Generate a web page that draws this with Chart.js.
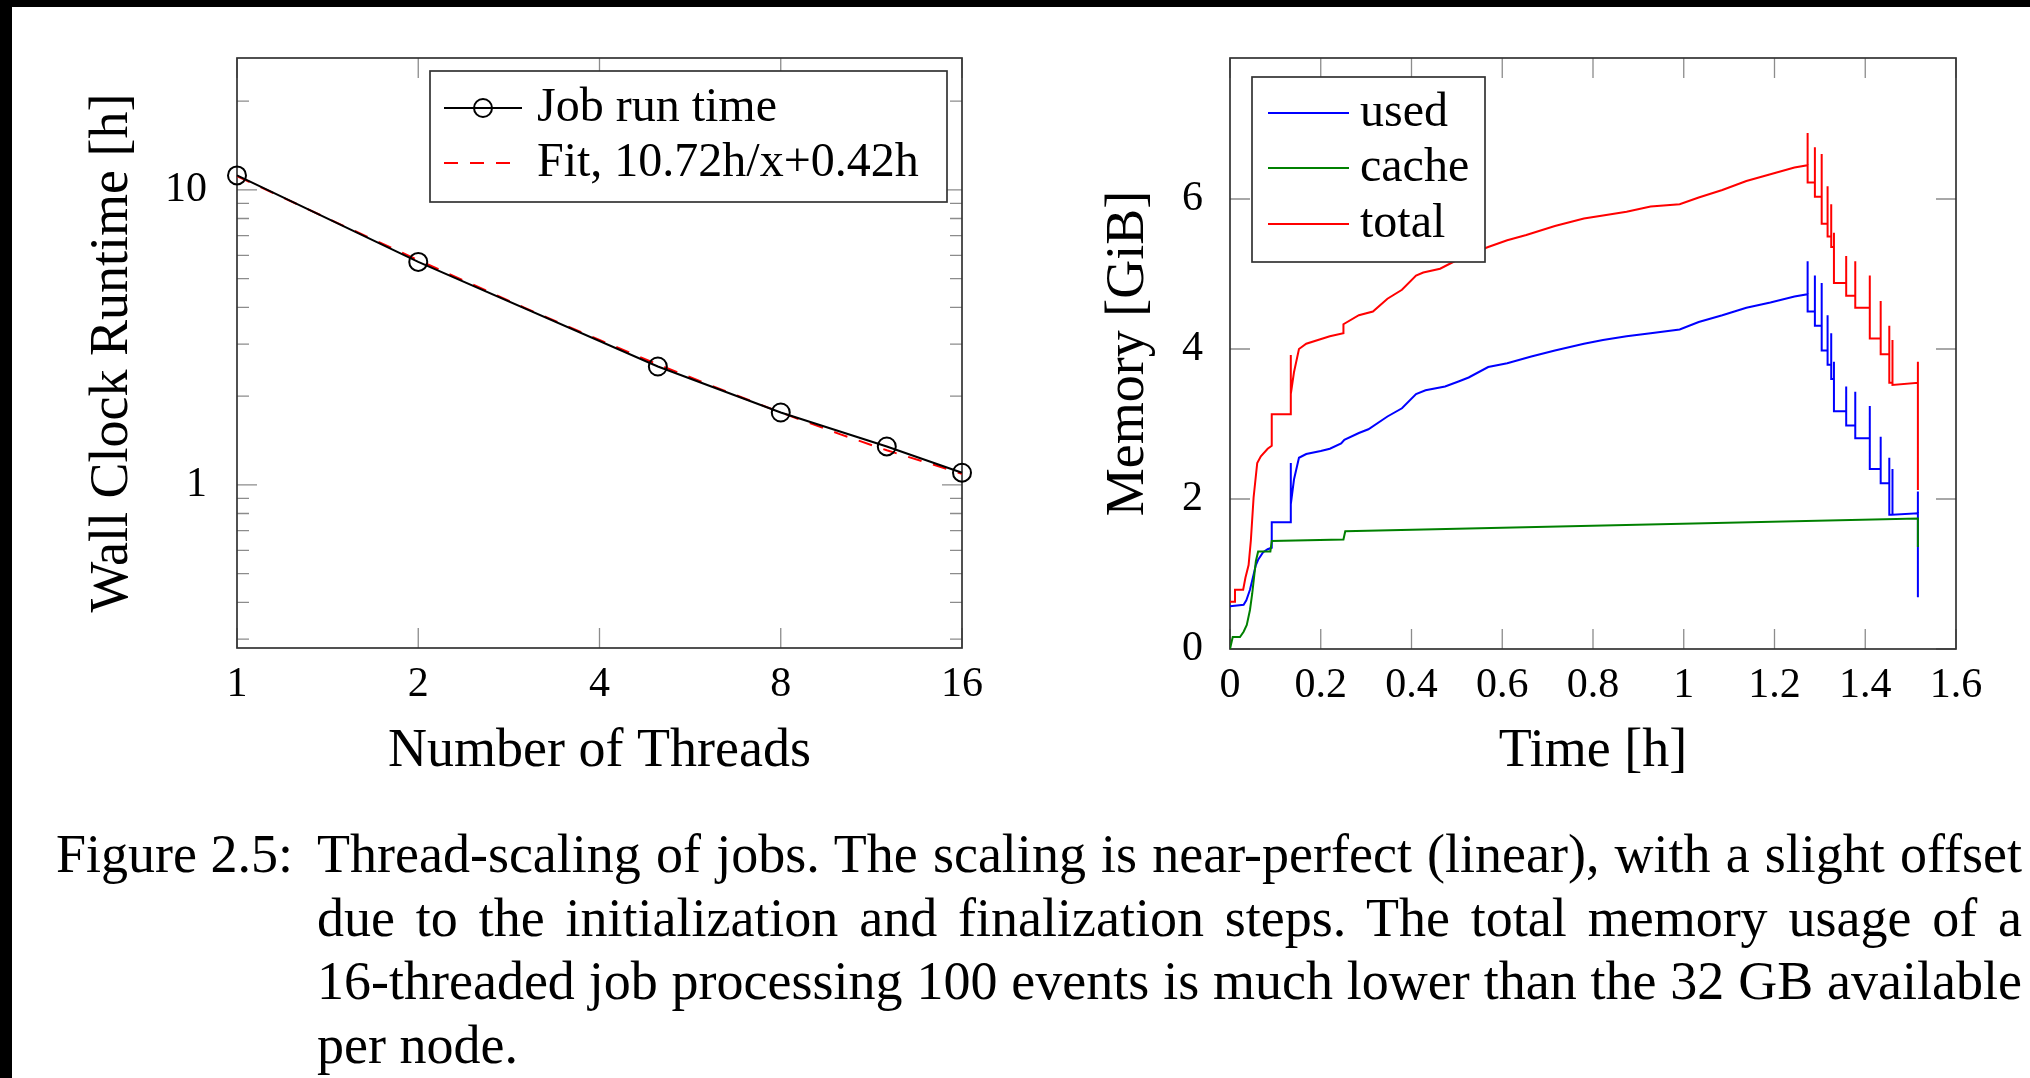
<!DOCTYPE html>
<html>
<head>
<meta charset="utf-8">
<script src="https://cdn.jsdelivr.net/npm/chart.js@4.4.1/dist/chart.umd.min.js"></script>
<style>
  html, body { margin: 0; padding: 0; background: #fff; }
  body { width: 2030px; height: 1078px; position: relative; overflow: hidden; font-family: 'Liberation Serif', 'DejaVu Serif', serif; }
  canvas { position: absolute; top: 0; }
  #runtime { left: 0; }
  #memory { left: 1020px; }
  .band { position: absolute; background: #000; z-index: 2; }
  .cap { position: absolute; font-size: 54px; line-height: 64px; color: #000; white-space: nowrap; }
  .label { left: 56px; }
  .line { left: 317px; width: 1705px; text-align: justify; text-align-last: justify; }
  .line.last { text-align-last: left; }
</style>
</head>
<body>
<canvas id="runtime" width="1000" height="800"></canvas>
<canvas id="memory" width="1010" height="800"></canvas>
<div class="band" style="left:0;top:0;width:2030px;height:7px"></div>
<div class="band" style="left:0;top:0;width:12px;height:1078px"></div>

<div class="cap label" style="top:822px">Figure 2.5:</div>
<div class="cap line" style="top:822px">Thread-scaling of jobs. The scaling is near-perfect (linear), with a slight offset</div>
<div class="cap line" style="top:886px">due to the initialization and finalization steps. The total memory usage of a</div>
<div class="cap line" style="top:949px">16-threaded job processing 100 events is much lower than the 32 GB available</div>
<div class="cap line last" style="top:1013px">per node.</div>

<script>
const SERIF = "'Liberation Serif', 'DejaVu Serif', serif";

// left plot: runtime vs number of threads
const threads = [1, 2, 5, 8, 12, 16];
const runtime = [11.2, 5.7, 2.52, 1.76, 1.35, 1.1];
// fit curve 10.72h/x + 0.42h, read at a few thread counts
const fitThreads = [1, 1.5, 2, 3, 4, 5, 6, 8, 10, 12, 14, 16];
const fitRuntime = [11.14, 7.57, 5.78, 3.99, 3.10, 2.56, 2.21, 1.76, 1.49, 1.31, 1.19, 1.09];
const threadTicks = [1, 2, 4, 8, 16];
const runtimeTicks = [1, 10];
const runtimeMinor = [0.3, 0.4, 0.5, 0.6, 0.7, 0.8, 0.9, 2, 3, 4, 5, 6, 7, 8, 9, 20];

// right plot: memory over time
const usedTime = [0, 0.030, 0.036, 0.044, 0.057, 0.062, 0.073, 0.083, 0.092, 0.092, 0.134, 0.134, 0.134,
  0.141, 0.152, 0.168, 0.200, 0.220, 0.245, 0.252, 0.284, 0.305, 0.347, 0.379, 0.410, 0.431, 0.474,
  0.505, 0.526, 0.569, 0.611, 0.664, 0.716, 0.780, 0.822, 0.874, 0.927, 0.991, 1.033, 1.085, 1.138,
  1.191, 1.244, 1.273, 1.273, 1.273, 1.289, 1.289, 1.289, 1.304, 1.304, 1.304, 1.317, 1.317, 1.317,
  1.325, 1.325, 1.325, 1.331, 1.331, 1.331, 1.358, 1.358, 1.358, 1.378, 1.378, 1.378, 1.410, 1.410, 1.410,
  1.434, 1.434, 1.434, 1.453, 1.453, 1.453, 1.460, 1.460, 1.460, 1.516, 1.516, 1.516];
const usedMem = [0.57, 0.59, 0.65, 0.79, 1.12, 1.19, 1.29, 1.33, 1.35, 1.69, 1.69, 2.48, 1.93,
  2.26, 2.55, 2.60, 2.64, 2.67, 2.74, 2.79, 2.88, 2.93, 3.10, 3.21, 3.40, 3.45, 3.50,
  3.57, 3.62, 3.76, 3.81, 3.90, 3.98, 4.07, 4.12, 4.17, 4.21, 4.26, 4.36, 4.45, 4.55,
  4.62, 4.70, 4.73, 5.17, 4.50, 4.50, 4.98, 4.31, 4.31, 4.88, 3.98, 3.98, 4.45, 3.79,
  3.79, 4.21, 3.60, 3.60, 3.83, 3.17, 3.17, 3.50, 2.98, 2.98, 3.43, 2.81, 2.81, 3.24, 2.40,
  2.40, 2.83, 2.21, 2.21, 2.55, 1.79, 1.79, 2.40, 1.79, 1.81, 2.10, 0.69];

const cacheTime = [0, 0.006, 0.022, 0.030, 0.037, 0.044, 0.049, 0.057, 0.062, 0.089, 0.092, 0.250, 0.254, 1.516, 1.516];
const cacheMem = [0, 0.16, 0.16, 0.23, 0.32, 0.52, 0.74, 1.17, 1.30, 1.30, 1.44, 1.46, 1.57, 1.74, 1.36];

const totalTime = [0, 0.011, 0.011, 0.029, 0.034, 0.041, 0.046, 0.052, 0.060, 0.068, 0.083, 0.092, 0.092,
  0.134, 0.134, 0.134, 0.141, 0.152, 0.168, 0.220, 0.250, 0.250, 0.284, 0.315, 0.347, 0.379, 0.410,
  0.426, 0.463, 0.495, 0.526, 0.569, 0.611, 0.653, 0.716, 0.780, 0.822, 0.874, 0.927, 0.991, 1.033,
  1.085, 1.138, 1.191, 1.244, 1.273, 1.273, 1.273, 1.289, 1.289, 1.289, 1.304, 1.304, 1.304,
  1.317, 1.317, 1.317, 1.325, 1.325, 1.325, 1.331, 1.331, 1.331, 1.358, 1.358, 1.358, 1.378, 1.378, 1.378,
  1.410, 1.410, 1.410, 1.434, 1.434, 1.434, 1.453, 1.453, 1.453, 1.460, 1.460, 1.460, 1.516, 1.516, 1.516];
const totalMem = [0.63, 0.63, 0.79, 0.79, 0.95, 1.12, 1.45, 2.02, 2.48, 2.57, 2.67, 2.71, 3.13,
  3.13, 3.92, 3.40, 3.69, 4.00, 4.07, 4.17, 4.21, 4.33, 4.45, 4.50, 4.67, 4.79, 4.98,
  5.02, 5.07, 5.17, 5.26, 5.36, 5.45, 5.52, 5.64, 5.74, 5.78, 5.83, 5.90, 5.93, 6.02,
  6.12, 6.24, 6.33, 6.42, 6.45, 6.88, 6.22, 6.22, 6.69, 6.03, 6.03, 6.60, 5.67,
  5.67, 6.17, 5.50, 5.50, 5.93, 5.36, 5.36, 5.55, 4.88, 4.88, 5.24, 4.71, 4.71, 5.17, 4.55,
  4.55, 4.98, 4.14, 4.14, 4.64, 3.93, 3.93, 4.31, 3.55, 3.55, 4.12, 3.52, 3.55, 3.83, 2.12];

const timeTicks = [0, 0.2, 0.4, 0.6, 0.8, 1, 1.2, 1.4, 1.6];
const memTicks = [0, 2, 4, 6];

function points(xs, ys) {
  return xs.map((x, i) => ({x: x, y: ys[i]}));
}

// frame + inward ticks on all four sides, like pgfplots
const axisBox = {
  id: 'axisBox',
  beforeDatasetsDraw(chart, args, opts) {
    const {ctx, chartArea: a, scales} = chart;
    ctx.save();
    ctx.strokeStyle = '#8c8c8c';
    ctx.lineWidth = 1.3;
    ctx.beginPath();
    opts.xMajor.forEach(v => {
      const px = scales.x.getPixelForValue(v);
      ctx.moveTo(px, a.bottom); ctx.lineTo(px, a.bottom - 20);
      ctx.moveTo(px, a.top); ctx.lineTo(px, a.top + 20);
    });
    const yTick = (v, len) => {
      const py = scales.y.getPixelForValue(v);
      ctx.moveTo(a.left, py); ctx.lineTo(a.left + len, py);
      ctx.moveTo(a.right, py); ctx.lineTo(a.right - len, py);
    };
    opts.yMajor.forEach(v => yTick(v, 20));
    (opts.yMinor || []).forEach(v => yTick(v, 12));
    ctx.stroke();
    ctx.strokeStyle = '#333';
    ctx.lineWidth = 1.7;
    ctx.strokeRect(a.left, a.top, a.width, a.height);
    ctx.restore();
  }
};

// boxed legend inside the plot area
const boxLegend = {
  id: 'boxLegend',
  afterDatasetsDraw(chart, args, opts) {
    const {ctx, chartArea: a} = chart;
    const x0 = a.left + opts.x, y0 = a.top + opts.y;
    ctx.save();
    ctx.fillStyle = '#fff';
    ctx.fillRect(x0, y0, opts.w, opts.h);
    ctx.strokeStyle = '#333';
    ctx.lineWidth = 1.7;
    ctx.strokeRect(x0, y0, opts.w, opts.h);
    ctx.font = '48px ' + SERIF;
    ctx.textBaseline = 'middle';
    chart.data.datasets.forEach((ds, i) => {
      const yy = y0 + opts.rows[i];
      ctx.strokeStyle = ds.borderColor;
      ctx.lineWidth = ds.borderWidth;
      ctx.setLineDash(ds.borderDash || []);
      ctx.beginPath();
      ctx.moveTo(x0 + opts.lineFrom, yy);
      ctx.lineTo(x0 + opts.lineTo, yy);
      ctx.stroke();
      ctx.setLineDash([]);
      if (ds.pointRadius) {
        ctx.lineWidth = ds.pointBorderWidth;
        ctx.beginPath();
        ctx.arc(x0 + (opts.lineFrom + opts.lineTo) / 2, yy, ds.pointRadius, 0, 2 * Math.PI);
        ctx.stroke();
      }
      ctx.fillStyle = '#000';
      ctx.fillText(ds.label, x0 + opts.textX, yy);
    });
    ctx.restore();
  }
};

const tickFont = {family: SERIF, size: 42, lineHeight: 1.2};
const titleFont = {family: SERIF, size: 54, lineHeight: 1.2};

// Runtime chart
new Chart(document.getElementById('runtime'), {
  type: 'line',
  data: {
    datasets: [
      {
        label: 'Job run time',
        data: points(threads, runtime),
        borderColor: '#000',
        borderWidth: 2,
        pointRadius: 9,
        pointBorderWidth: 2,
        pointBorderColor: '#000',
        pointBackgroundColor: 'rgba(0,0,0,0)',
        clip: false,
      },
      {
        label: 'Fit, 10.72h/x+0.42h',
        data: points(fitThreads, fitRuntime),
        borderColor: '#ff0000',
        borderWidth: 2,
        borderDash: [14, 12],
        pointRadius: 0,
      },
    ],
  },
  options: {
    responsive: false,
    animation: false,
    events: [],
    layout: {padding: {top: 58, right: 38, left: 0, bottom: 0}},
    scales: {
      x: {
        type: 'logarithmic',
        min: 1,
        max: 16,
        grid: {display: false},
        border: {display: false},
        afterBuildTicks: s => { s.ticks = threadTicks.map(v => ({value: v})); },
        afterFit: s => { s.height = 152; },
        ticks: {font: tickFont, color: '#000', padding: 4, maxRotation: 0, autoSkip: false,
          callback: v => String(v)},
        title: {display: true, text: 'Number of Threads', font: titleFont, color: '#000', padding: {top: 0, bottom: 16}},
      },
      y: {
        type: 'logarithmic',
        min: 0.28,
        max: 28,
        grid: {display: false},
        border: {display: false},
        afterBuildTicks: s => { s.ticks = runtimeTicks.map(v => ({value: v})); },
        afterFit: s => { s.width = 237; },
        ticks: {font: tickFont, color: '#000', padding: 22, callback: v => String(v)},
        title: {display: true, text: 'Wall Clock Runtime [h]', font: titleFont, color: '#000', padding: {top: 80, bottom: 0}},
      },
    },
    plugins: {
      legend: {display: false},
      tooltip: {enabled: false},
      axisBox: {xMajor: threadTicks, yMajor: runtimeTicks, yMinor: runtimeMinor},
      boxLegend: {x: 193, y: 13, w: 517, h: 131, rows: [37, 92], lineFrom: 14, lineTo: 92, textX: 107},
    },
  },
  plugins: [axisBox, boxLegend],
});

// Memory chart
new Chart(document.getElementById('memory'), {
  type: 'line',
  data: {
    datasets: [
      {label: 'used', data: points(usedTime, usedMem), borderColor: '#0000ff', borderWidth: 2, pointRadius: 0, order: 2},
      {label: 'cache', data: points(cacheTime, cacheMem), borderColor: '#008000', borderWidth: 2, pointRadius: 0, order: 1},
      {label: 'total', data: points(totalTime, totalMem), borderColor: '#ff0000', borderWidth: 2, pointRadius: 0, order: 0},
    ],
  },
  options: {
    responsive: false,
    animation: false,
    events: [],
    layout: {padding: {top: 58, right: 74, left: 0, bottom: 0}},
    scales: {
      x: {
        type: 'linear',
        min: 0,
        max: 1.6,
        grid: {display: false},
        border: {display: false},
        afterBuildTicks: s => { s.ticks = timeTicks.map(v => ({value: v})); },
        afterFit: s => { s.height = 151; },
        ticks: {font: tickFont, color: '#000', padding: 4, maxRotation: 0, autoSkip: false,
          callback: v => String(Math.round(v * 10) / 10)},
        title: {display: true, text: 'Time [h]', font: titleFont, color: '#000', padding: {top: 0, bottom: 16}},
      },
      y: {
        type: 'linear',
        min: 0,
        max: 7.88,
        grid: {display: false},
        border: {display: false},
        afterBuildTicks: s => { s.ticks = memTicks.map(v => ({value: v})); },
        afterFit: s => { s.width = 210; },
        ticks: {font: tickFont, color: '#000', padding: 19, callback: v => String(v)},
        title: {display: true, text: 'Memory [GiB]', font: titleFont, color: '#000', padding: {top: 76, bottom: 0}},
      },
    },
    plugins: {
      legend: {display: false},
      tooltip: {enabled: false},
      axisBox: {xMajor: timeTicks, yMajor: memTicks},
      boxLegend: {x: 22, y: 19, w: 233, h: 185, rows: [36, 91, 147], lineFrom: 16, lineTo: 97, textX: 108},
    },
  },
  plugins: [axisBox, boxLegend],
});
</script>
</body>
</html>
